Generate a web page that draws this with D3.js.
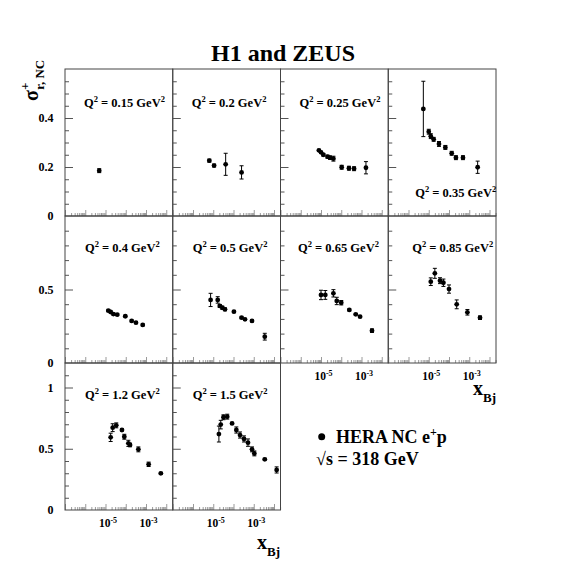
<!DOCTYPE html>
<html><head><meta charset="utf-8">
<script src="https://cdn.jsdelivr.net/npm/d3@7"></script>
<style>body{margin:0;background:#fff}svg{display:block}</style>
</head><body><div id="chart"></div>
<script>
// ---- data ----
const q2Labels = ["0.15","0.2","0.25","0.35","0.4","0.5","0.65","0.85","1.2","1.5"];

const x_015 = [4.9e-6];
const y_015 = [0.185];
const e_015 = [0.008];

const x_020 = [6.4e-6, 1.1e-5, 4.1e-5, 2.5e-4];
const y_020 = [0.226, 0.206, 0.211, 0.178];
const e_020 = [0.006, 0.006, 0.045, 0.027];

const x_025 = [7.9e-6, 1.0e-5, 1.3e-5, 2.1e-5, 2.8e-5, 4.1e-5, 1.05e-4, 2.4e-4, 4.3e-4, 1.66e-3];
const y_025 = [0.268, 0.260, 0.250, 0.242, 0.238, 0.234, 0.199, 0.195, 0.193, 0.197];
const e_025 = [0.004, 0.004, 0.005, 0.006, 0.007, 0.010, 0.008, 0.008, 0.008, 0.025];

const x_035 = [5.4e-6, 1.0e-5, 1.26e-5, 1.75e-5, 3.2e-5, 6.6e-5, 1.36e-4, 2.2e-4, 4.9e-4, 2.6e-3];
const y_035 = [0.437, 0.344, 0.326, 0.313, 0.294, 0.280, 0.256, 0.238, 0.238, 0.199];
const e_035 = [0.113, 0.010, 0.010, 0.008, 0.010, 0.008, 0.008, 0.008, 0.008, 0.025];

const x_040 = [1.38e-5, 1.8e-5, 2.45e-5, 3.8e-5, 9.5e-5, 1.96e-4, 3.2e-4, 6.9e-4];
const y_040 = [0.356, 0.347, 0.333, 0.329, 0.318, 0.286, 0.274, 0.259];
const e_040 = [0.006, 0.006, 0.006, 0.006, 0.006, 0.006, 0.006, 0.006];

const x_050 = [7.4e-6, 1.66e-5, 2.1e-5, 2.8e-5, 3.8e-5, 1.05e-4, 2.5e-4, 3.7e-4, 8.2e-4, 3.5e-3];
const y_050 = [0.429, 0.429, 0.388, 0.376, 0.365, 0.349, 0.308, 0.297, 0.286, 0.179];
const e_050 = [0.045, 0.022, 0.010, 0.010, 0.010, 0.006, 0.006, 0.006, 0.006, 0.023];

const x_065 = [1.0e-5, 1.63e-5, 4.1e-5, 6.0e-5, 1.0e-4, 2.5e-4, 5.2e-4, 8.5e-4, 3.3e-3];
const y_065 = [0.463, 0.463, 0.474, 0.422, 0.410, 0.361, 0.331, 0.315, 0.220];
const e_065 = [0.032, 0.030, 0.025, 0.025, 0.015, 0.006, 0.006, 0.006, 0.012];

const x_085 = [1.26e-5, 2.0e-5, 3.6e-5, 5.3e-5, 1.0e-4, 2.4e-4, 8.1e-4, 3.4e-3];
const y_085 = [0.553, 0.610, 0.560, 0.546, 0.503, 0.399, 0.345, 0.308];
const e_085 = [0.026, 0.034, 0.020, 0.025, 0.028, 0.030, 0.019, 0.012];

const x_120 = [1.8e-5, 2.26e-5, 3.4e-5, 6.5e-5, 8.5e-5, 1.35e-4, 1.63e-4, 4.2e-4, 1.35e-3, 5.4e-3];
const y_120 = [0.593, 0.672, 0.691, 0.653, 0.598, 0.544, 0.531, 0.495, 0.373, 0.299];
const e_120 = [0.034, 0.032, 0.020, 0.008, 0.020, 0.025, 0.015, 0.020, 0.018, 0.008];

const x_150 = [1.9e-5, 2.35e-5, 3.2e-5, 4.9e-5, 8.5e-5, 1.38e-4, 2.1e-4, 3.3e-4, 5.2e-4, 8.2e-4, 1.07e-3, 3.5e-3, 1.35e-2];
const y_150 = [0.620, 0.697, 0.757, 0.762, 0.707, 0.653, 0.612, 0.580, 0.550, 0.495, 0.462, 0.414, 0.327];
const e_150 = [0.065, 0.035, 0.020, 0.020, 0.008, 0.025, 0.025, 0.025, 0.030, 0.020, 0.020, 0.008, 0.025];

const rowYMax = [0.6, 1.0, 1.2];
const rowYLabels = [[0, 0.2, 0.4], [0, 0.5], [0, 0.5, 1]];
const rowYMajor = [[0.2, 0.4], [0.5], [0.5, 1]];
const rowYMinorStep = [0.05, 0.1, 0.1];
const xTickLabels = [1e-5, 1e-3];
const legendText = "HERA NC e";
const energyText = "√s = 318 GeV";
const titleText = "H1 and ZEUS";

// ---- build ----
const xsAll = [x_015, x_020, x_025, x_035, x_040, x_050, x_065, x_085, x_120, x_150];
const ysAll = [y_015, y_020, y_025, y_035, y_040, y_050, y_065, y_085, y_120, y_150];
const esAll = [e_015, e_020, e_025, e_035, e_040, e_050, e_065, e_085, e_120, e_150];

const W = 567, H = 567;
const gx0 = 65, gy0 = 69, pw = 107.75, ph = 147;
const FONT = "'Liberation Serif','Times New Roman',serif";

const svg = d3.select("#chart").append("svg").attr("width", W).attr("height", H)
  .style("font-family", FONT).style("font-weight", "bold");

svg.append("text").attr("x", 283).attr("y", 61).attr("text-anchor", "middle")
  .attr("font-size", 24).text(titleText);

const x = d3.scaleLog().domain([1e-7, Math.pow(10, -7 + pw / 20.25)]).range([0, pw]);
const xMajor = [1e-7, 1e-6, 1e-5, 1e-4, 1e-3, 1e-2];
const xMinor = [];
for (let d = -7; d <= -2; d++) for (let k = 2; k <= 9; k++) {
  const v = k * Math.pow(10, d);
  if (v < x.domain()[1]) xMinor.push(v);
}

q2Labels.forEach((lab, i) => {
  const row = Math.floor(i / 4), col = i % 4;
  const left = gx0 + col * pw, top = gy0 + row * ph;
  const y = d3.scaleLinear().domain([0, rowYMax[row]]).range([ph, 0]);
  const g = svg.append("g").attr("transform", `translate(${left},${top})`);

  // bottom ticks (pointing up)
  const gb = g.append("g").attr("transform", `translate(0,${ph})`);
  gb.call(d3.axisBottom(x).tickValues(xMinor).tickSize(-3).tickFormat(""));
  gb.append("g").call(d3.axisBottom(x).tickValues(xMajor).tickSize(-6).tickFormat(""));
  gb.selectAll("path.domain").remove();
  gb.selectAll("line").attr("stroke", "#9a9a9a");

  // left ticks (pointing right)
  const minor = d3.range(0, rowYMax[row] + 1e-9, rowYMinorStep[row])
    .filter(v => !rowYMajor[row].some(m => Math.abs(m - v) < 1e-9) && v > 1e-9 && v < rowYMax[row] - 1e-9);
  const gl = g.append("g");
  gl.call(d3.axisLeft(y).tickValues(minor).tickSize(-4).tickFormat(""));
  gl.append("g").call(d3.axisLeft(y).tickValues(rowYMajor[row]).tickSize(-8).tickFormat(""));
  gl.selectAll("path.domain").remove();
  gl.selectAll("line").attr("stroke", "#555");

  if (col === 0) {
    const gt = g.append("g");
    gt.call(d3.axisLeft(y).tickValues(rowYLabels[row]).tickSize(0).tickPadding(11.5)
      .tickFormat(d => d === 0 ? "0" : String(d)));
    gt.select("path.domain").remove();
    gt.selectAll("text").attr("font-size", 12).attr("font-family", FONT).attr("font-weight", "bold").attr("fill", "#000");
  }

  // frame
  g.append("rect").attr("x", 0).attr("y", 0).attr("width", pw).attr("height", ph)
    .attr("fill", "none").attr("stroke", "#444").attr("stroke-width", 1);

  // x labels where no panel below
  const hasBelow = (i + 4) < q2Labels.length;
  if (!hasBelow) {
    xTickLabels.forEach(v => {
      const t = g.append("text").attr("x", x(v) + 2.5).attr("y", ph + 17)
        .attr("text-anchor", "middle").attr("font-size", 11.5);
      t.append("tspan").text("10");
      t.append("tspan").attr("baseline-shift", "super").attr("font-size", 8).text(String(Math.round(Math.log10(v))));
    });
  }

  // Q2 label
  const atBottom = lab === "0.35";
  const lt = g.append("text")
    .attr("x", atBottom ? 27 : (row === 0 ? 19 : (col === 2 ? 17.5 : (col === 3 ? 24 : 20))))
    .attr("y", atBottom ? 128 : (row === 0 ? 38 : 36))
    .attr("font-size", 12.5);
  lt.append("tspan").text("Q");
  lt.append("tspan").attr("baseline-shift", "super").attr("font-size", 8.5).text("2");
  lt.append("tspan").text(" = " + lab + " GeV");
  lt.append("tspan").attr("baseline-shift", "super").attr("font-size", 8.5).text("2");

  // data
  const pts = xsAll[i].map((xv, j) => ({ x: xv, y: ysAll[i][j], e: esAll[i][j] }));
  const eb = g.append("g").attr("stroke", "#000").attr("stroke-width", 1);
  pts.forEach(p => {
    const cx = x(p.x), y1 = y(p.y + p.e), y2 = y(p.y - p.e);
    eb.append("line").attr("x1", cx).attr("x2", cx).attr("y1", y1).attr("y2", y2);
    eb.append("line").attr("x1", cx - 2).attr("x2", cx + 2).attr("y1", y1).attr("y2", y1);
    eb.append("line").attr("x1", cx - 2).attr("x2", cx + 2).attr("y1", y2).attr("y2", y2);
  });
  g.append("g").selectAll("circle").data(pts).join("circle")
    .attr("cx", d => x(d.x)).attr("cy", d => y(d.y)).attr("r", 2.4).attr("fill", "#000");
});

// x axis titles
function xTitle(xp, yp) {
  const t = svg.append("text").attr("x", xp).attr("y", yp).attr("font-size", 20);
  t.append("tspan").text("x");
  t.append("tspan").attr("font-size", 13).attr("dy", 7).text("Bj");
}
xTitle(257, 549);
xTitle(473, 395);

// y axis title
const yt = svg.append("text").attr("transform", "translate(38,101) rotate(-90)").attr("font-size", 20);
yt.append("tspan").text("σ");
yt.append("tspan").attr("font-size", 13).attr("dy", -9).text("+");
yt.append("tspan").attr("font-size", 13).attr("dx", -7).attr("dy", 15).text("r, NC");

// legend
svg.append("circle").attr("cx", 321.7).attr("cy", 436.7).attr("r", 3.5).attr("fill", "#000");
const lg = svg.append("text").attr("x", 336).attr("y", 443).attr("font-size", 18);
lg.append("tspan").text(legendText);
lg.append("tspan").attr("baseline-shift", "super").attr("font-size", 12).text("+");
lg.append("tspan").text("p");
svg.append("text").attr("x", 316).attr("y", 465).attr("font-size", 18).text(energyText);
</script>
</body></html>
